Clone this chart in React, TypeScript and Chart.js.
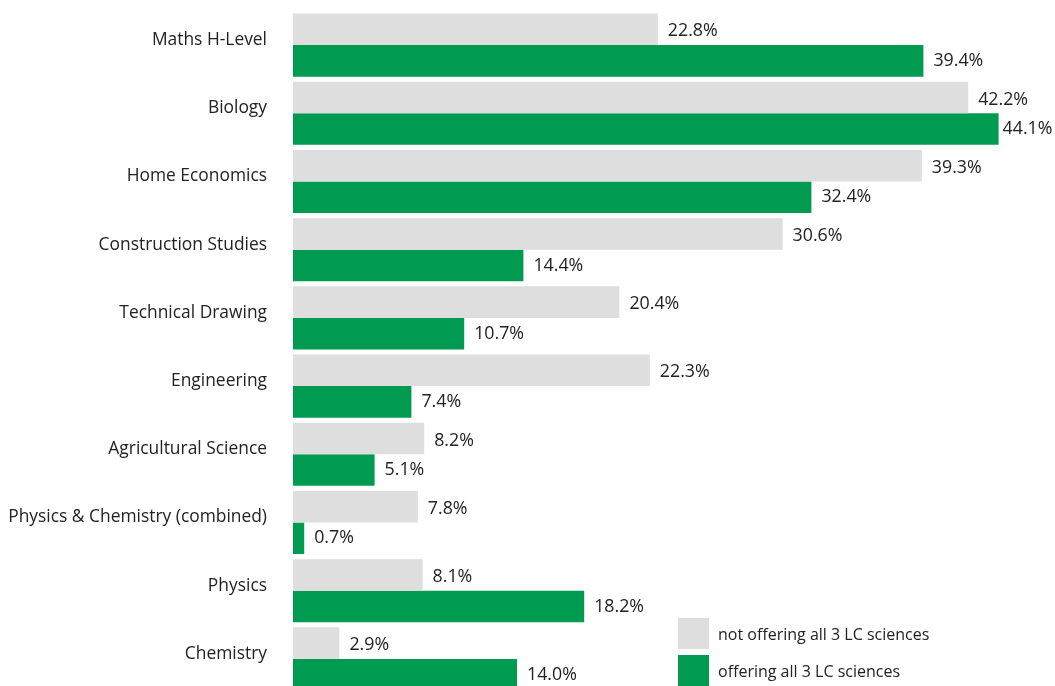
import React, { useEffect, useRef } from "react";
import { Chart, registerables } from "chart.js";

Chart.register(...registerables);

const categories = [
  "Maths H-Level",
  "Biology",
  "Home Economics",
  "Construction Studies",
  "Technical Drawing",
  "Engineering",
  "Agricultural Science",
  "Physics & Chemistry (combined)",
  "Physics",
  "Chemistry",
];
const notOffering = [22.8, 42.2, 39.3, 30.6, 20.4, 22.3, 8.2, 7.8, 8.1, 2.9];
const offering = [39.4, 44.1, 32.4, 14.4, 10.7, 7.4, 5.1, 0.7, 18.2, 14.0];
const seriesNames = ["not offering all 3 LC sciences", "offering all 3 LC sciences"];
const seriesColors = ["#DEDEDE", "#009A50"];

const FONT = "'Open Sans', 'Noto Sans', sans-serif";
const TEXT = "#222222";

const valueLabels = {
  id: "valueLabels",
  afterDatasetsDraw(chart: any) {
    const ctx = chart.ctx;
    ctx.save();
    ctx.font = `17.8px ${FONT}`;
    ctx.fillStyle = TEXT;
    ctx.textAlign = "left";
    ctx.textBaseline = "middle";
    chart.data.datasets.forEach((ds: any, di: number) => {
      const meta = chart.getDatasetMeta(di);
      meta.data.forEach((bar: any, i: number) => {
        const txt = ds.data[i].toFixed(1) + "%";
        const w = ctx.measureText(txt).width;
        let x = bar.x + 10;
        if (x + w > chart.width - 7) x = Math.max(bar.x + 4, chart.width - 7 - w);
        ctx.fillText(txt, x, bar.y + (di === 0 ? 2 : 0));
      });
    });
    ctx.restore();
  },
};

const customLegend = {
  id: "customLegend",
  afterDraw(chart: any) {
    const ctx = chart.ctx;
    ctx.save();
    ctx.font = `16px ${FONT}`;
    ctx.textBaseline = "middle";
    ctx.textAlign = "left";
    const x = 678;
    const ys = [618, 655];
    chart.data.datasets.forEach((ds: any, i: number) => {
      ctx.fillStyle = ds.backgroundColor;
      ctx.fillRect(x, ys[i], 31, 31);
      ctx.fillStyle = TEXT;
      ctx.fillText(ds.label, x + 40, ys[i] + 17);
    });
    ctx.restore();
  },
};

export default function App() {
  const ref = useRef<HTMLCanvasElement>(null);
  useEffect(() => {
    if (!ref.current) return;
    const chart = new Chart(ref.current, {
      type: "bar",
      data: {
        labels: categories,
        datasets: [
          {
            label: seriesNames[0],
            data: notOffering,
            backgroundColor: seriesColors[0],
            categoryPercentage: 0.925,
            barPercentage: 1,
          },
          {
            label: seriesNames[1],
            data: offering,
            backgroundColor: seriesColors[1],
            categoryPercentage: 0.925,
            barPercentage: 1,
          },
        ],
      },
      options: {
        indexAxis: "y",
        animation: false,
        responsive: false,
        maintainAspectRatio: false,
        layout: { padding: { left: 0, right: 10, top: 11, bottom: 1 } },
        plugins: {
          legend: { display: false },
          tooltip: { enabled: false },
        },
        scales: {
          x: {
            display: false,
            min: 0,
            max: 47,
          },
          y: {
            grid: { display: false, drawTicks: false },
            border: { display: false },
            ticks: {
              padding: 26,
              labelOffset: -5,
              color: TEXT,
              font: { family: FONT, size: 17.4 },
            },
            afterFit(scale: any) {
              scale.width = 293;
              scale.paddingTop = 0;
              scale.paddingBottom = 0;
            },
          },
        },
      },
      plugins: [valueLabels, customLegend],
    });
    return () => chart.destroy();
  }, []);
  return (
    <div
      style={{
        position: "fixed",
        left: 0,
        top: 0,
        width: 1055,
        height: 686,
        overflow: "hidden",
        background: "#fff",
      }}
    >
      <canvas ref={ref} width={1055} height={694} style={{ display: "block" }} />
    </div>
  );
}
